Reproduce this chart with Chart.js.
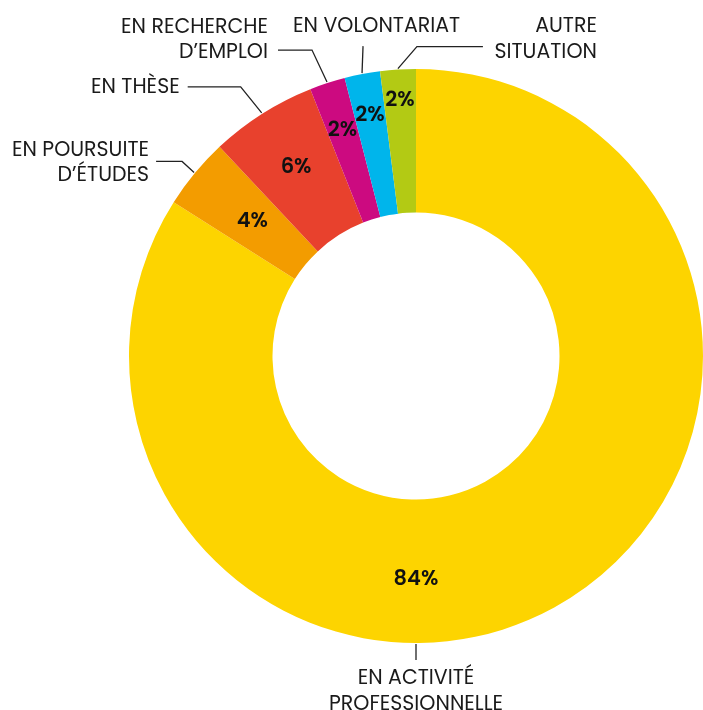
<!DOCTYPE html>
<html>
<head>
<meta charset="utf-8">
<script src="https://cdn.jsdelivr.net/npm/chart.js@4.4.1/dist/chart.umd.min.js"></script>
<style>
  html, body { margin: 0; padding: 0; background: #fff; }
  #wrap { width: 703px; height: 710px; position: relative; }
</style>
</head>
<body>
<div id="wrap"><canvas id="donut-chart"></canvas></div>
<script>
// Categories, values and slice colours
const categories = [
  ['EN ACTIVITÉ', 'PROFESSIONNELLE'],
  ['EN POURSUITE', 'D’ÉTUDES'],
  ['EN THÈSE'],
  ['EN RECHERCHE', 'D’EMPLOI'],
  ['EN VOLONTARIAT'],
  ['AUTRE', 'SITUATION']
];
const values = [84, 4, 6, 2, 2, 2];
const colors = ['#FDD400', '#F39C00', '#E8412D', '#CC0A80', '#00B5EB', '#B3CA14'];

// Where each outside label sits (relative to the slice's outer edge)
// elbow = first bend, run = horizontal part, text = offset of first line from line end
const labelLayout = [
  { bottom: true, elbow: [0, 16], run: 0, text: [0, 19], align: 'center' },
  { elbow: [-12, -11], run: -26, text: [-7, -11], align: 'right' },
  { elbow: [-21, -26], run: -53, text: [-8, 1], align: 'right' },
  { elbow: [-15, -32], run: -34, text: [-10, -22.5], align: 'right' },
  { elbow: [1, -27], run: 0, text: [-70, -19.5], align: 'left' },
  { elbow: [19, -22], run: 66, text: [114, -19.5], align: 'right' }
];
// Percent labels: fraction of ring thickness from the inner edge
const pctRadius = [0.55, 0.48, 0.56, 0.66, 0.71, 0.79];

const FONT = 'Poppins, Inter, "Noto Sans", sans-serif';

const labelPlugin = {
  id: 'outsideLabels',
  afterDraw(chart) {
    const ctx = chart.ctx;
    const arcs = chart.getDatasetMeta(0).data;
    ctx.save();
    arcs.forEach((arc, i) => {
      const p = arc.getProps(['x', 'y', 'startAngle', 'endAngle', 'innerRadius', 'outerRadius'], true);
      const lay = labelLayout[i];
      // the big slice gets its label at the bottom
      const a = lay.bottom ? Math.PI / 2 : (p.startAngle + p.endAngle) / 2;

      // percentage inside the ring
      const r = p.innerRadius + (p.outerRadius - p.innerRadius) * pctRadius[i];
      ctx.fillStyle = '#111';
      ctx.font = '600 21px ' + FONT;
      ctx.textAlign = 'center';
      ctx.textBaseline = 'middle';
      ctx.fillText(values[i] + '%', p.x + Math.cos(a) * r, p.y + Math.sin(a) * r + 1);

      // leader line
      const ax = p.x + Math.cos(a) * (p.outerRadius + 1);
      const ay = p.y + Math.sin(a) * (p.outerRadius + 1);
      const ex = ax + lay.elbow[0], ey = ay + lay.elbow[1];
      const lx = ex + lay.run;
      ctx.strokeStyle = '#222';
      ctx.lineWidth = 1.3;
      ctx.beginPath();
      ctx.moveTo(ax, ay);
      ctx.lineTo(ex, ey);
      if (lay.run) ctx.lineTo(lx, ey);
      ctx.stroke();

      // category text
      const lines = categories[i];
      const tx = lx + lay.text[0];
      const ty = ey + lay.text[1];
      ctx.font = '20.5px ' + FONT;
      ctx.textAlign = lay.align;
      ctx.fillStyle = '#1a1a1a';
      lines.forEach((t, k) => ctx.fillText(t, tx, ty + k * 25.5));
    });
    ctx.restore();
  }
};

const donutCanvas = document.querySelector('#donut-chart');
new Chart(donutCanvas, {
  type: 'doughnut',
  data: {
    labels: categories.map(c => c.join(' ')),
    datasets: [{
      data: values,
      backgroundColor: colors,
      borderWidth: 0
    }]
  },
  options: {
    responsive: true,
    maintainAspectRatio: false,
    animation: false,
    cutout: '50%',
    layout: { padding: { left: 129, right: 0, top: 69, bottom: 67 } },
    plugins: {
      legend: { display: false },
      tooltip: { enabled: false }
    }
  },
  plugins: [labelPlugin]
});
</script>
</body>
</html>
